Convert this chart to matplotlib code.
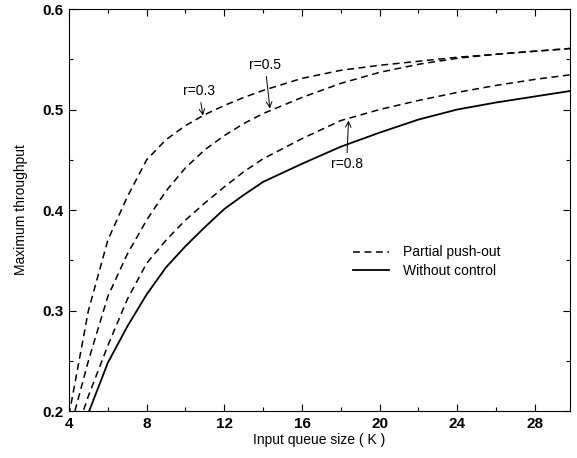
import matplotlib
matplotlib.use("Agg")
import matplotlib.pyplot as plt
from matplotlib.ticker import MultipleLocator

plt.rcParams['font.family'] = ['Liberation Sans', 'DejaVu Sans']

# Input queue size K
K = [4, 5, 6, 7, 8, 9, 10, 11, 12, 13, 14, 16, 18, 20, 22, 24, 26, 28, 30]

# Maximum throughput, partial push-out for each r
push_r03 = [0.196, 0.300, 0.370, 0.413, 0.450, 0.470, 0.484, 0.495, 0.504, 0.512,
            0.519, 0.531, 0.539, 0.544, 0.548, 0.552, 0.555, 0.558, 0.561]
push_r05 = [0.178, 0.250, 0.314, 0.356, 0.390, 0.419, 0.442, 0.460, 0.474, 0.486,
            0.496, 0.512, 0.526, 0.537, 0.545, 0.551, 0.555, 0.558, 0.561]
push_r08 = [0.158, 0.215, 0.265, 0.311, 0.347, 0.370, 0.390, 0.407, 0.423, 0.438,
            0.451, 0.471, 0.489, 0.500, 0.509, 0.517, 0.524, 0.530, 0.535]

# Maximum throughput without control
K_nc = [5, 6, 7, 8, 9, 10, 11, 12, 13, 14, 16, 18, 20, 22, 24, 26, 28, 30]
no_control = [0.198, 0.248, 0.284, 0.316, 0.343, 0.364, 0.383, 0.401, 0.415, 0.428,
              0.446, 0.463, 0.477, 0.490, 0.500, 0.507, 0.513, 0.519]

fig = plt.figure(figsize=(5.77, 4.58), dpi=100)
ax = fig.add_axes([0.1196, 0.1026, 0.868, 0.8777])

dash = (0, (4.5, 3))
lw = 1.1
l1, = ax.plot(K, push_r03, color='black', lw=lw, linestyle=dash)
ax.plot(K, push_r05, color='black', lw=lw, linestyle=dash)
ax.plot(K, push_r08, color='black', lw=lw, linestyle=dash)
l2, = ax.plot(K_nc, no_control, color='black', lw=1.3, linestyle='-')

ax.set_xlim(4, 29.8)
ax.set_ylim(0.2, 0.6)
ax.xaxis.set_major_locator(MultipleLocator(4))
ax.xaxis.set_minor_locator(MultipleLocator(2))
ax.yaxis.set_major_locator(MultipleLocator(0.1))
ax.yaxis.set_minor_locator(MultipleLocator(0.05))
ax.tick_params(which='both', direction='in', top=True, right=True, width=0.8)
ax.tick_params(which='major', length=5, labelsize=11, pad=4)
ax.tick_params(which='minor', length=3)
ax.set_yticks([0.2, 0.3, 0.4, 0.5, 0.6])
ax.set_yticklabels(['0.2', '0.3', '0.4', '0.5', '0.6'])
for lab in ax.get_xticklabels() + ax.get_yticklabels():
    lab.set_fontweight('bold')

ax.set_xlabel('Input queue size ( K )', fontsize=10, labelpad=2)
ax.set_ylabel('Maximum throughput', fontsize=10, labelpad=10)

arrow = dict(arrowstyle='->', color='black', lw=0.7, shrinkA=1, shrinkB=0)
ax.annotate('r=0.3', xy=(10.9, 0.494), xytext=(10.7, 0.518), fontsize=10,
            ha='center', va='center', arrowprops=arrow)
ax.annotate('r=0.5', xy=(14.35, 0.501), xytext=(14.1, 0.544), fontsize=10,
            ha='center', va='center', arrowprops=arrow)
ax.annotate('r=0.8', xy=(18.4, 0.489), xytext=(18.3, 0.446), fontsize=10,
            ha='center', va='center', arrowprops=arrow)

ax.legend([l1, l2], ['Partial push-out', 'Without control'], frameon=False,
          loc='center left', bbox_to_anchor=(0.567, 0.372), borderpad=0,
          borderaxespad=0, handlelength=2.6, handletextpad=1.0,
          labelspacing=0.3, fontsize=10)

fig.savefig('out.png', dpi=100)
